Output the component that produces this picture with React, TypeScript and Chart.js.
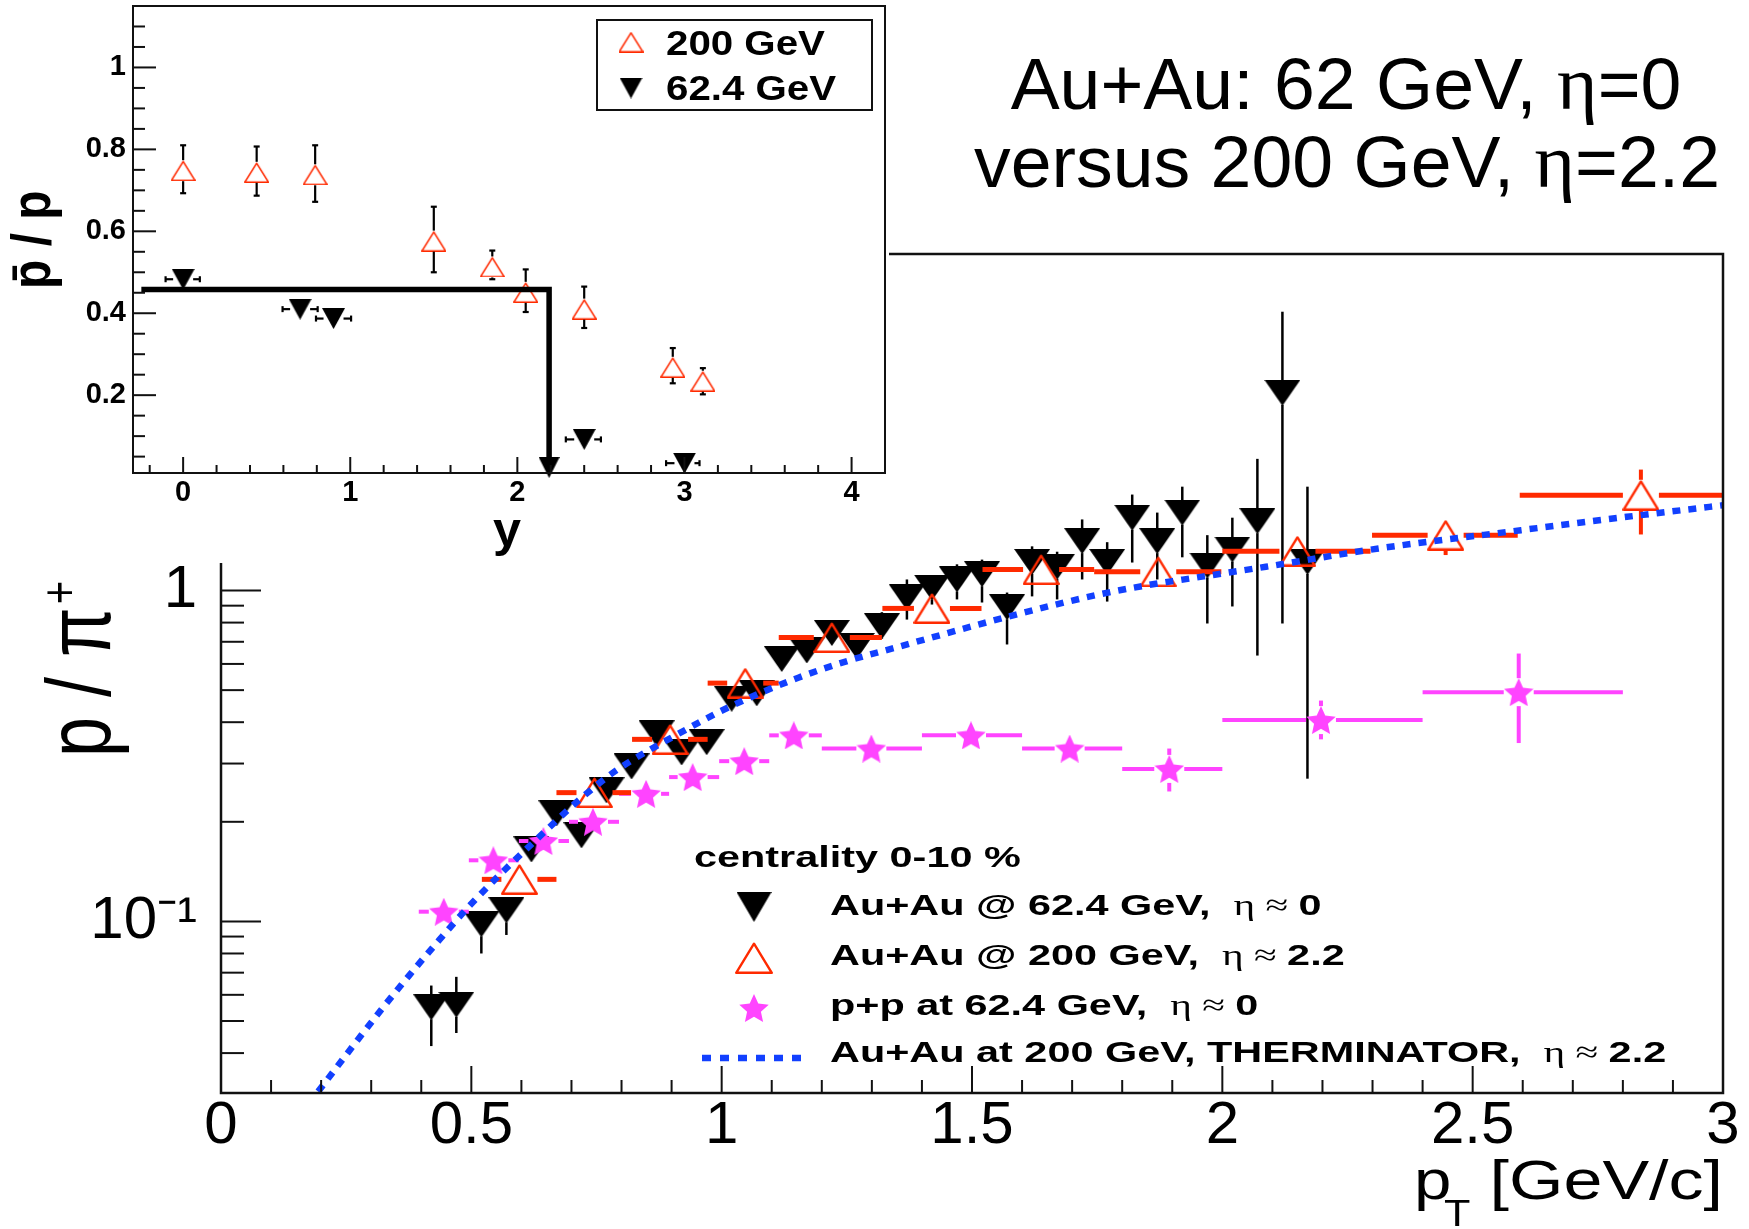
import React, { useEffect, useRef } from 'react';
import { Chart, registerables } from 'chart.js';

Chart.register(...registerables);

const SANS = '"Liberation Sans", Arial, Helvetica, sans-serif';
const SERIF = '"Liberation Serif", "DejaVu Serif", serif';

const BLACK = '#000000';
const RED = '#ff2a00';
const MAGENTA = '#ff44ff';
const BLUE = '#1240ff';

// ================= Title =================
const TITLE_LINE_1 = ['Au+Au: 62 GeV, ', 'η', '=0'];
const TITLE_LINE_2 = ['versus 200 GeV, ', 'η', '=2.2'];

// ================= Main panel: p / pi+ vs pT =================
const X_TICK_VALUES = [0, 0.5, 1, 1.5, 2, 2.5, 3];
const X_TICK_LABELS = ['0', '0.5', '1', '1.5', '2', '2.5', '3'];
const Y_TICK_VALUES = [0.1, 1];
const Y_TICK_LABELS = ['10\u207B\u00B9', '1'];

// Au+Au @ 62.4 GeV, eta ~ 0 (black inverted triangles)
const AU62_PT = [0.42, 0.47, 0.52, 0.57, 0.62, 0.67, 0.72, 0.77, 0.82, 0.87, 0.92, 0.97, 1.02, 1.07, 1.12, 1.17, 1.22, 1.27, 1.32, 1.37, 1.42, 1.47, 1.52, 1.57, 1.62, 1.67, 1.72, 1.77, 1.82, 1.87, 1.92, 1.97, 2.02, 2.07, 2.12, 2.17];
const AU62_RATIO = [0.055, 0.056, 0.098, 0.108, 0.165, 0.212, 0.182, 0.249, 0.294, 0.37, 0.324, 0.348, 0.471, 0.489, 0.621, 0.659, 0.744, 0.68, 0.78, 0.953, 1.02, 1.08, 1.12, 0.89, 1.22, 1.18, 1.41, 1.22, 1.66, 1.41, 1.72, 1.19, 1.33, 1.62, 3.96, 1.22];
const AU62_ERR_LO = [0.042, 0.046, 0.08, 0.091, 0.152, 0.197, 0.168, 0.232, 0.274, 0.345, 0.302, 0.324, 0.44, 0.455, 0.578, 0.612, 0.69, 0.625, 0.715, 0.817, 0.907, 0.94, 0.92, 0.687, 0.96, 0.94, 1.08, 0.926, 1.215, 1.08, 1.26, 0.795, 0.895, 0.636, 0.795, 0.27];
const AU62_ERR_HI = [0.064, 0.068, 0.106, 0.118, 0.179, 0.228, 0.197, 0.268, 0.316, 0.397, 0.348, 0.374, 0.505, 0.525, 0.667, 0.71, 0.8, 0.74, 0.86, 1.08, 1.1, 1.2, 1.24, 0.986, 1.36, 1.31, 1.64, 1.4, 1.95, 1.72, 2.06, 1.47, 1.66, 2.5, 6.96, 2.06];

// Au+Au @ 200 GeV, eta ~ 2.2 (red open triangles)
const AU200_PT = [0.596, 0.746, 0.897, 1.047, 1.22, 1.42, 1.638, 1.872, 2.15, 2.446, 2.836];
const AU200_RATIO = [0.134, 0.245, 0.355, 0.525, 0.721, 0.883, 1.157, 1.14, 1.315, 1.47, 1.94];
const AU200_BIN_LO = [0.521, 0.67, 0.821, 0.972, 1.114, 1.321, 1.521, 1.744, 2.0, 2.299, 2.594];
const AU200_BIN_HI = [0.67, 0.819, 0.972, 1.114, 1.32, 1.519, 1.744, 1.998, 2.296, 2.59, 3.0];
const AU200_ERR_LO = [0.129, 0.237, 0.343, 0.508, 0.698, 0.855, 1.12, 1.1, 1.27, 1.28, 1.477];
const AU200_ERR_HI = [0.139, 0.253, 0.367, 0.542, 0.744, 0.911, 1.195, 1.18, 1.36, 1.62, 2.32];

// p+p at 62.4 GeV, eta ~ 0 (magenta stars)
const PP_PT = [0.445, 0.544, 0.644, 0.743, 0.849, 0.942, 1.045, 1.144, 1.299, 1.498, 1.695, 1.894, 2.197, 2.592];
const PP_RATIO = [0.107, 0.153, 0.175, 0.2, 0.243, 0.273, 0.305, 0.365, 0.333, 0.365, 0.333, 0.289, 0.406, 0.493];
const PP_BIN_LO = [0.395, 0.495, 0.595, 0.695, 0.795, 0.895, 0.995, 1.095, 1.2, 1.4, 1.6, 1.8, 2.0, 2.4];
const PP_BIN_HI = [0.495, 0.595, 0.695, 0.795, 0.895, 0.995, 1.095, 1.2, 1.4, 1.6, 1.8, 2.0, 2.4, 2.8];
const PP_ERR_LO = [0.1, 0.145, 0.167, 0.19, 0.232, 0.261, 0.29, 0.345, 0.315, 0.345, 0.31, 0.247, 0.355, 0.346];
const PP_ERR_HI = [0.114, 0.161, 0.183, 0.21, 0.254, 0.285, 0.32, 0.385, 0.351, 0.385, 0.356, 0.333, 0.465, 0.645];

// THERMINATOR, Au+Au at 200 GeV, eta ~ 2.2 (blue dotted curve)
const THERM_PT = [0.194, 0.256, 0.323, 0.376, 0.436, 0.492, 0.556, 0.652, 0.714, 0.788, 0.908, 1.021, 1.153, 1.255, 1.352, 1.422, 1.588, 1.754, 1.854, 1.921, 2.087, 2.312, 2.579, 2.808, 3.0];
const THERM_RATIO = [0.0306, 0.0406, 0.0548, 0.0687, 0.0879, 0.1097, 0.138, 0.19, 0.232, 0.285, 0.365, 0.449, 0.545, 0.615, 0.675, 0.723, 0.846, 0.973, 1.04, 1.079, 1.18, 1.34, 1.51, 1.67, 1.81];

const LEGEND_HEADER = 'centrality 0-10 %';
const LEGEND_LABELS = ['Au+Au @ 62.4 GeV,  ', 'Au+Au @ 200 GeV,  ', 'p+p at 62.4 GeV,  ', 'Au+Au at 200 GeV, THERMINATOR,  '];
const LEGEND_ETA = ['0', '2.2', '0', '2.2'];

// ================= Inset: pbar/p vs y =================
const INSET_X_TICK_VALUES = [0, 1, 2, 3, 4];
const INSET_X_TICK_LABELS = ['0', '1', '2', '3', '4'];
const INSET_Y_TICK_VALUES = [0.2, 0.4, 0.6, 0.8, 1];
const INSET_Y_TICK_LABELS = ['0.2', '0.4', '0.6', '0.8', '1'];

const INSET_Y_200 = [0.0, 0.44, 0.79, 1.5, 1.85, 2.05, 2.4, 2.93, 3.11];
const INSET_R_200 = [0.748, 0.744, 0.738, 0.576, 0.513, 0.451, 0.41, 0.268, 0.234];
const INSET_R_200_LO = [0.693, 0.687, 0.672, 0.5, 0.483, 0.403, 0.364, 0.229, 0.202];
const INSET_R_200_HI = [0.81, 0.807, 0.81, 0.66, 0.553, 0.507, 0.465, 0.315, 0.266];

const INSET_Y_62 = [0.0, 0.7, 0.9, 2.4, 3.0];
const INSET_R_62 = [0.483, 0.41, 0.387, 0.092, 0.034];
const INSET_Y_62_LO = [-0.105, 0.595, 0.795, 2.29, 2.89];
const INSET_Y_62_HI = [0.1, 0.805, 1.005, 2.5, 3.09];

const INSET_LIMIT_Y = [-0.25, 2.19, 2.19];
const INSET_LIMIT_R = [0.458, 0.458, 0.0234];

const INSET_LEGEND = ['200 GeV', '62.4 GeV'];

// ================= helpers =================
function makeImg(w: number, h: number, draw: (g: CanvasRenderingContext2D) => void) {
  const c = document.createElement('canvas');
  c.width = w;
  c.height = h;
  const g = c.getContext('2d') as CanvasRenderingContext2D;
  draw(g);
  return c;
}
function downTri(w: number, h: number, color: string) {
  return makeImg(w, h, (g) => {
    g.fillStyle = color;
    g.beginPath();
    g.moveTo(0, 0);
    g.lineTo(w, 0);
    g.lineTo(w / 2, h);
    g.closePath();
    g.fill();
  });
}
function upTriOpen(w: number, h: number, color: string, lw: number) {
  return makeImg(w, h, (g) => {
    g.strokeStyle = color;
    g.lineWidth = lw;
    g.lineJoin = 'round';
    g.beginPath();
    g.moveTo(w / 2, lw / 2 + 0.5);
    g.lineTo(w - lw / 2, h - lw / 2);
    g.lineTo(lw / 2, h - lw / 2);
    g.closePath();
    g.stroke();
  });
}
function star(w: number, h: number, color: string) {
  return makeImg(w, h, (g) => {
    const R = h / 1.809;
    const r = R * 0.47;
    const cx = w / 2;
    const cy = R;
    g.fillStyle = color;
    g.beginPath();
    for (let k = 0; k < 10; k++) {
      const ang = -Math.PI / 2 + (k * Math.PI) / 5;
      const rad = k % 2 === 0 ? R : r;
      const x = cx + rad * Math.cos(ang);
      const y = cy + rad * Math.sin(ang);
      if (k === 0) g.moveTo(x, y);
      else g.lineTo(x, y);
    }
    g.closePath();
    g.fill();
  });
}

function seg(ctx: CanvasRenderingContext2D, x1: number, y1: number, x2: number, y2: number) {
  if (x2 - x1 < 0.5 && y2 - y1 < 0.5) return;
  ctx.beginPath();
  ctx.moveTo(x1, y1);
  ctx.lineTo(x2, y2);
  ctx.stroke();
}

function txt(ctx: CanvasRenderingContext2D, s: string, x: number, y: number, font: string, sx = 1, align: CanvasTextAlign = 'left') {
  ctx.save();
  ctx.font = font;
  ctx.fillStyle = '#000';
  ctx.textAlign = align;
  ctx.textBaseline = 'alphabetic';
  ctx.translate(x, y);
  ctx.scale(sx, 1);
  ctx.fillText(s, 0, 0);
  ctx.restore();
}
function runs(ctx: CanvasRenderingContext2D, parts: { t: string; font: string }[], x: number, y: number, sx = 1) {
  let cx = x;
  for (const p of parts) {
    ctx.font = p.font;
    const w = ctx.measureText(p.t).width * sx;
    txt(ctx, p.t, cx, y, p.font, sx);
    cx += w;
  }
}
function runsWidth(ctx: CanvasRenderingContext2D, parts: { t: string; font: string }[], sx = 1) {
  let w = 0;
  for (const p of parts) {
    ctx.font = p.font;
    w += ctx.measureText(p.t).width * sx;
  }
  return w;
}

const errorBarPlugin = {
  id: 'errorBars',
  afterDatasetDraw(chart: any, args: any) {
    const ds: any = chart.data.datasets[args.index];
    const e = ds.errorBars;
    if (!e) return;
    const ctx: CanvasRenderingContext2D = chart.ctx;
    const a = chart.chartArea;
    const xs = chart.scales.x;
    const ys = chart.scales.y;
    ctx.save();
    ctx.beginPath();
    ctx.rect(a.left, a.top, a.right - a.left, a.bottom - a.top);
    ctx.clip();
    ctx.strokeStyle = e.color;
    ctx.lineCap = 'butt';
    ds.data.forEach((p: any, i: number) => {
      const px = xs.getPixelForValue(p.x);
      const py = ys.getPixelForValue(p.y);
      if (e.xLo && e.xHi) {
        const l = xs.getPixelForValue(e.xLo[i]);
        const r = xs.getPixelForValue(e.xHi[i]);
        const g = e.gapX || 0;
        ctx.lineWidth = e.xWidth || 2;
        seg(ctx, l, py, px - g, py);
        seg(ctx, px + g, py, r, py);
        if (e.cap) {
          if (l < px - g) seg(ctx, l, py - e.cap, l, py + e.cap);
          if (r > px + g) seg(ctx, r, py - e.cap, r, py + e.cap);
        }
      }
      if (e.yLo && e.yHi) {
        const top = ys.getPixelForValue(e.yHi[i]);
        const bot = ys.getPixelForValue(e.yLo[i]);
        const g = e.gapY || 0;
        ctx.lineWidth = e.yWidth || 2;
        seg(ctx, px, top, px, py - g);
        seg(ctx, px, py + g, px, bot);
        if (e.cap) {
          if (top < py - g) seg(ctx, px - e.cap, top, px + e.cap, top);
          if (bot > py + g) seg(ctx, px - e.cap, bot, px + e.cap, bot);
        }
      }
    });
    ctx.restore();
  },
};

function pts(xs: number[], ys: number[]) {
  return xs.map((x, i) => ({ x, y: ys[i] }));
}

function zeroPad(s: any) {
  s.paddingTop = 0;
  s.paddingBottom = 0;
  s.paddingLeft = 0;
  s.paddingRight = 0;
}

function mainConfig(): any {
  const blackImg = downTri(36, 26, BLACK);
  const redImg = upTriOpen(37, 31, RED, 2.4);
  const starImg = star(30, 28, MAGENTA);
  const legBlack = downTri(35, 30, BLACK);
  const legRed = upTriOpen(38, 32, RED, 2.4);
  const legStar = star(30, 28, MAGENTA);

  const deco = {
    id: 'mainDeco',
    afterDraw(chart: any) {
      const ctx: CanvasRenderingContext2D = chart.ctx;
      const a = chart.chartArea;
      const xs = chart.scales.x;
      const ys = chart.scales.y;
      ctx.save();
      ctx.strokeStyle = '#111';
      ctx.lineWidth = 2;
      for (let i = 0; i <= 30; i++) {
        const px = xs.getPixelForValue(i / 10);
        const len = i % 5 === 0 ? 27 : 13;
        seg(ctx, px, a.bottom - len, px, a.bottom);
      }
      for (const d of [0.01, 0.1, 1]) {
        for (let k = 1; k <= 9; k++) {
          const v = d * k;
          if (v < ys.min || v > ys.max) continue;
          const py = ys.getPixelForValue(v);
          seg(ctx, a.left, py, a.left + (k === 1 ? 40 : 23), py);
        }
      }
      ctx.lineWidth = 2.5;
      ctx.strokeRect(a.left, a.top, a.right - a.left, a.bottom - a.top);
      ctx.restore();

      // Title
      const tFont = `72px ${SANS}`;
      const eFont = `76px ${SERIF}`;
      const TSX = 1.02;
      const l1 = [{ t: TITLE_LINE_1[0], font: tFont }, { t: TITLE_LINE_1[1], font: eFont }, { t: TITLE_LINE_1[2], font: tFont }];
      const l2 = [{ t: TITLE_LINE_2[0], font: tFont }, { t: TITLE_LINE_2[1], font: eFont }, { t: TITLE_LINE_2[2], font: tFont }];
      runs(ctx, l1, 1346 - runsWidth(ctx, l1, TSX) / 2, 109, TSX);
      runs(ctx, l2, 1347 - runsWidth(ctx, l2, TSX) / 2, 187, TSX);

      // Y axis title: p / pi+
      ctx.save();
      ctx.translate(109.5, 757);
      ctx.rotate(-Math.PI / 2);
      ctx.scale(1, 1.27);
      ctx.fillStyle = '#000';
      ctx.textBaseline = 'alphabetic';
      ctx.textAlign = 'left';
      ctx.font = `72px ${SANS}`;
      const yt = 'p / π';
      ctx.fillText(yt, 0, 0);
      const ytw = ctx.measureText(yt).width;
      ctx.font = `40px ${SANS}`;
      ctx.fillText('+', ytw + 3, -26);
      ctx.restore();

      // X axis title: p_T [GeV/c]
      txt(ctx, 'p', 1414, 1199, `56px ${SANS}`, 1.2);
      txt(ctx, 'T', 1444, 1226, `36px ${SANS}`, 1.2);
      txt(ctx, '[GeV/c]', 1723, 1199, `56px ${SANS}`, 1.25, 'right');

      // Legend
      const SX = 1.38;
      const bold = `bold 30px ${SANS}`;
      const reg = `30px ${SERIF}`;
      txt(ctx, LEGEND_HEADER, 694, 867, bold, SX);
      const rowsY = [915, 965, 1015, 1062];
      const mx = 754;
      ctx.drawImage(legBlack, mx - legBlack.width / 2, 907 - legBlack.height / 2);
      ctx.drawImage(legRed, mx - legRed.width / 2, 958 - legRed.height / 2);
      ctx.drawImage(legStar, mx - legStar.width / 2, 1008 - legStar.height / 2);
      ctx.save();
      ctx.strokeStyle = BLUE;
      ctx.lineWidth = 6.5;
      ctx.setLineDash([9, 9]);
      ctx.beginPath();
      ctx.moveTo(702, 1058);
      ctx.lineTo(803, 1058);
      ctx.stroke();
      ctx.restore();
      LEGEND_LABELS.forEach((lab, i) => {
        runs(ctx, [{ t: lab, font: bold }, { t: 'η ≈ ', font: reg }, { t: LEGEND_ETA[i], font: bold }], 830, rowsY[i], SX);
      });
    },
  };

  return {
    type: 'scatter',
    data: {
      datasets: [
        {
          label: 'Au+Au at 200 GeV, THERMINATOR',
          data: pts(THERM_PT, THERM_RATIO),
          showLine: true,
          borderColor: BLUE,
          borderWidth: 6.5,
          borderDash: [8, 8],
          cubicInterpolationMode: 'monotone',
          pointRadius: 0,
          order: 0,
        },
        {
          label: 'Au+Au @ 200 GeV',
          data: pts(AU200_PT, AU200_RATIO),
          pointStyle: redImg,
          pointRadius: 10,
          order: 1,
          errorBars: { xLo: AU200_BIN_LO, xHi: AU200_BIN_HI, yLo: AU200_ERR_LO, yHi: AU200_ERR_HI, color: RED, xWidth: 5, yWidth: 4, gapX: 18, gapY: 15.5 },
        },
        {
          label: 'p+p at 62.4 GeV',
          data: pts(PP_PT, PP_RATIO),
          pointStyle: starImg,
          pointRadius: 10,
          order: 2,
          errorBars: { xLo: PP_BIN_LO, xHi: PP_BIN_HI, yLo: PP_ERR_LO, yHi: PP_ERR_HI, color: MAGENTA, xWidth: 4, yWidth: 4, gapX: 15, gapY: 14 },
        },
        {
          label: 'Au+Au @ 62.4 GeV',
          data: pts(AU62_PT, AU62_RATIO),
          pointStyle: blackImg,
          pointRadius: 10,
          order: 3,
          errorBars: { yLo: AU62_ERR_LO, yHi: AU62_ERR_HI, color: BLACK, yWidth: 2.5, gapY: 12 },
        },
      ],
    },
    options: {
      animation: false,
      responsive: true,
      maintainAspectRatio: false,
      events: [],
      layout: { autoPadding: false, padding: { top: 254, right: 26, left: 0, bottom: 0 } },
      plugins: { legend: { display: false }, tooltip: { enabled: false } },
      scales: {
        x: {
          type: 'linear',
          position: 'bottom',
          min: 0,
          max: 3,
          bounds: 'data',
          grid: { display: false, drawTicks: false },
          border: { display: false },
          ticks: {
            autoSkip: false,
            maxRotation: 0,
            padding: 0,
            color: '#000',
            font: { family: SANS, size: 60, lineHeight: 1.1 },
            callback: (_v: any, i: number) => X_TICK_LABELS[i] ?? '',
          },
          afterBuildTicks: (s: any) => {
            s.ticks = X_TICK_VALUES.map((v) => ({ value: v }));
          },
          afterFit: (s: any) => {
            s.height = 136;
            zeroPad(s);
          },
        },
        y: {
          type: 'logarithmic',
          position: 'left',
          min: 0.0303,
          max: 10.4,
          bounds: 'data',
          grid: { display: false, drawTicks: false },
          border: { display: false },
          ticks: {
            autoSkip: false,
            padding: 24,
            color: '#000',
            font: { family: SANS, size: 60 },
            callback: (_v: any, i: number) => Y_TICK_LABELS[i] ?? '',
          },
          afterBuildTicks: (s: any) => {
            s.ticks = Y_TICK_VALUES.map((v) => ({ value: v }));
          },
          afterFit: (s: any) => {
            s.width = 221;
            zeroPad(s);
          },
        },
      },
    },
    plugins: [errorBarPlugin, deco],
  };
}

function insetConfig(): any {
  const redImg = upTriOpen(25, 21, RED, 1.6);
  const blackImg = downTri(23, 21, BLACK);
  const arrowImg = downTri(21, 21, BLACK);

  const deco = {
    id: 'insetDeco',
    afterDraw(chart: any) {
      const ctx: CanvasRenderingContext2D = chart.ctx;
      const a = chart.chartArea;
      const xs = chart.scales.x;
      const ys = chart.scales.y;
      ctx.save();
      ctx.strokeStyle = '#111';
      ctx.lineWidth = 2;
      for (let i = -1; i <= 21; i++) {
        const v = i * 0.2;
        if (v < xs.min - 1e-9 || v > xs.max + 1e-9) continue;
        const px = xs.getPixelForValue(v);
        seg(ctx, px, a.bottom - (i % 5 === 0 ? 16 : 8), px, a.bottom);
      }
      for (let i = 1; i <= 22; i++) {
        const v = i * 0.05;
        const py = ys.getPixelForValue(v);
        seg(ctx, a.left, py, a.left + (i % 4 === 0 ? 23 : 12), py);
      }
      ctx.lineWidth = 2;
      ctx.strokeRect(a.left, a.top, a.right - a.left, a.bottom - a.top);

      // legend box
      ctx.fillStyle = '#fff';
      ctx.fillRect(597, 20, 275, 90);
      ctx.lineWidth = 2;
      ctx.strokeRect(597, 20, 275, 90);
      ctx.drawImage(redImg, 631 - redImg.width / 2, 42 - redImg.height / 2);
      ctx.drawImage(blackImg, 631 - blackImg.width / 2, 88 - blackImg.height / 2);
      ctx.restore();
      txt(ctx, INSET_LEGEND[0], 666, 55, `bold 35px ${SANS}`, 1.15);
      txt(ctx, INSET_LEGEND[1], 666, 100, `bold 35px ${SANS}`, 1.15);

      // x title
      txt(ctx, 'y', 507, 546, `bold 48px ${SANS}`, 1.05, 'center');

      // y title: pbar / p
      ctx.save();
      ctx.translate(50, 289);
      ctx.rotate(-Math.PI / 2);
      ctx.scale(1, 1.15);
      ctx.fillStyle = '#000';
      ctx.textAlign = 'left';
      ctx.textBaseline = 'alphabetic';
      ctx.font = `bold 48px ${SANS}`;
      ctx.fillText('p\u0304 / p', 0, 0);
      ctx.restore();
    },
  };

  return {
    type: 'scatter',
    data: {
      datasets: [
        {
          label: 'limit',
          data: pts(INSET_LIMIT_Y, INSET_LIMIT_R),
          showLine: true,
          borderColor: BLACK,
          borderWidth: 5.5,
          borderJoinStyle: 'miter',
          pointRadius: [0, 0, 10],
          pointStyle: arrowImg,
          clip: false,
          order: 0,
        },
        {
          label: INSET_LEGEND[0],
          data: pts(INSET_Y_200, INSET_R_200),
          pointStyle: redImg,
          pointRadius: 10,
          order: 1,
          errorBars: { yLo: INSET_R_200_LO, yHi: INSET_R_200_HI, color: BLACK, yWidth: 2.2, gapY: 10.5, cap: 3 },
        },
        {
          label: INSET_LEGEND[1],
          data: pts(INSET_Y_62, INSET_R_62),
          pointStyle: blackImg,
          pointRadius: 10,
          order: 2,
          errorBars: { xLo: INSET_Y_62_LO, xHi: INSET_Y_62_HI, color: BLACK, xWidth: 2.2, gapX: 10, cap: 3 },
        },
      ],
    },
    options: {
      animation: false,
      responsive: true,
      maintainAspectRatio: false,
      events: [],
      layout: { autoPadding: false, padding: { top: 6, right: 4, left: 0, bottom: 0 } },
      plugins: { legend: { display: false }, tooltip: { enabled: false } },
      scales: {
        x: {
          type: 'linear',
          position: 'bottom',
          min: -0.3,
          max: 4.2,
          bounds: 'data',
          grid: { display: false, drawTicks: false },
          border: { display: false },
          ticks: {
            autoSkip: false,
            maxRotation: 0,
            padding: 5,
            color: '#000',
            font: { family: SANS, size: 29, weight: 'bold', lineHeight: 1.0 },
            callback: (_v: any, i: number) => INSET_X_TICK_LABELS[i] ?? '',
          },
          afterBuildTicks: (s: any) => {
            s.ticks = INSET_X_TICK_VALUES.map((v) => ({ value: v }));
          },
          afterFit: (s: any) => {
            s.height = 90;
            zeroPad(s);
          },
        },
        y: {
          type: 'linear',
          position: 'left',
          min: 0.01,
          max: 1.15,
          bounds: 'data',
          grid: { display: false, drawTicks: false },
          border: { display: false },
          ticks: {
            autoSkip: false,
            padding: 7,
            color: '#000',
            font: { family: SANS, size: 29, weight: 'bold' },
            callback: (_v: any, i: number) => INSET_Y_TICK_LABELS[i] ?? '',
          },
          afterBuildTicks: (s: any) => {
            s.ticks = INSET_Y_TICK_VALUES.map((v) => ({ value: v }));
          },
          afterFit: (s: any) => {
            s.width = 133;
            zeroPad(s);
          },
        },
      },
    },
    plugins: [errorBarPlugin, deco],
  };
}

export default function App() {
  const mainRef = useRef<HTMLCanvasElement | null>(null);
  const insetRef = useRef<HTMLCanvasElement | null>(null);

  useEffect(() => {
    if (!mainRef.current || !insetRef.current) return;
    const main = new Chart(mainRef.current, mainConfig());
    const inset = new Chart(insetRef.current, insetConfig());
    return () => {
      main.destroy();
      inset.destroy();
    };
  }, []);

  return (
    <div style={{ position: 'absolute', left: 0, top: 0, width: 1749, height: 1229, background: '#fff', overflow: 'hidden' }}>
      <div style={{ position: 'absolute', left: 0, top: 0, width: 1749, height: 1229 }}>
        <canvas ref={mainRef} />
      </div>
      <div style={{ position: 'absolute', left: 0, top: 0, width: 889, height: 563, background: '#fff' }}>
        <canvas ref={insetRef} />
      </div>
    </div>
  );
}
